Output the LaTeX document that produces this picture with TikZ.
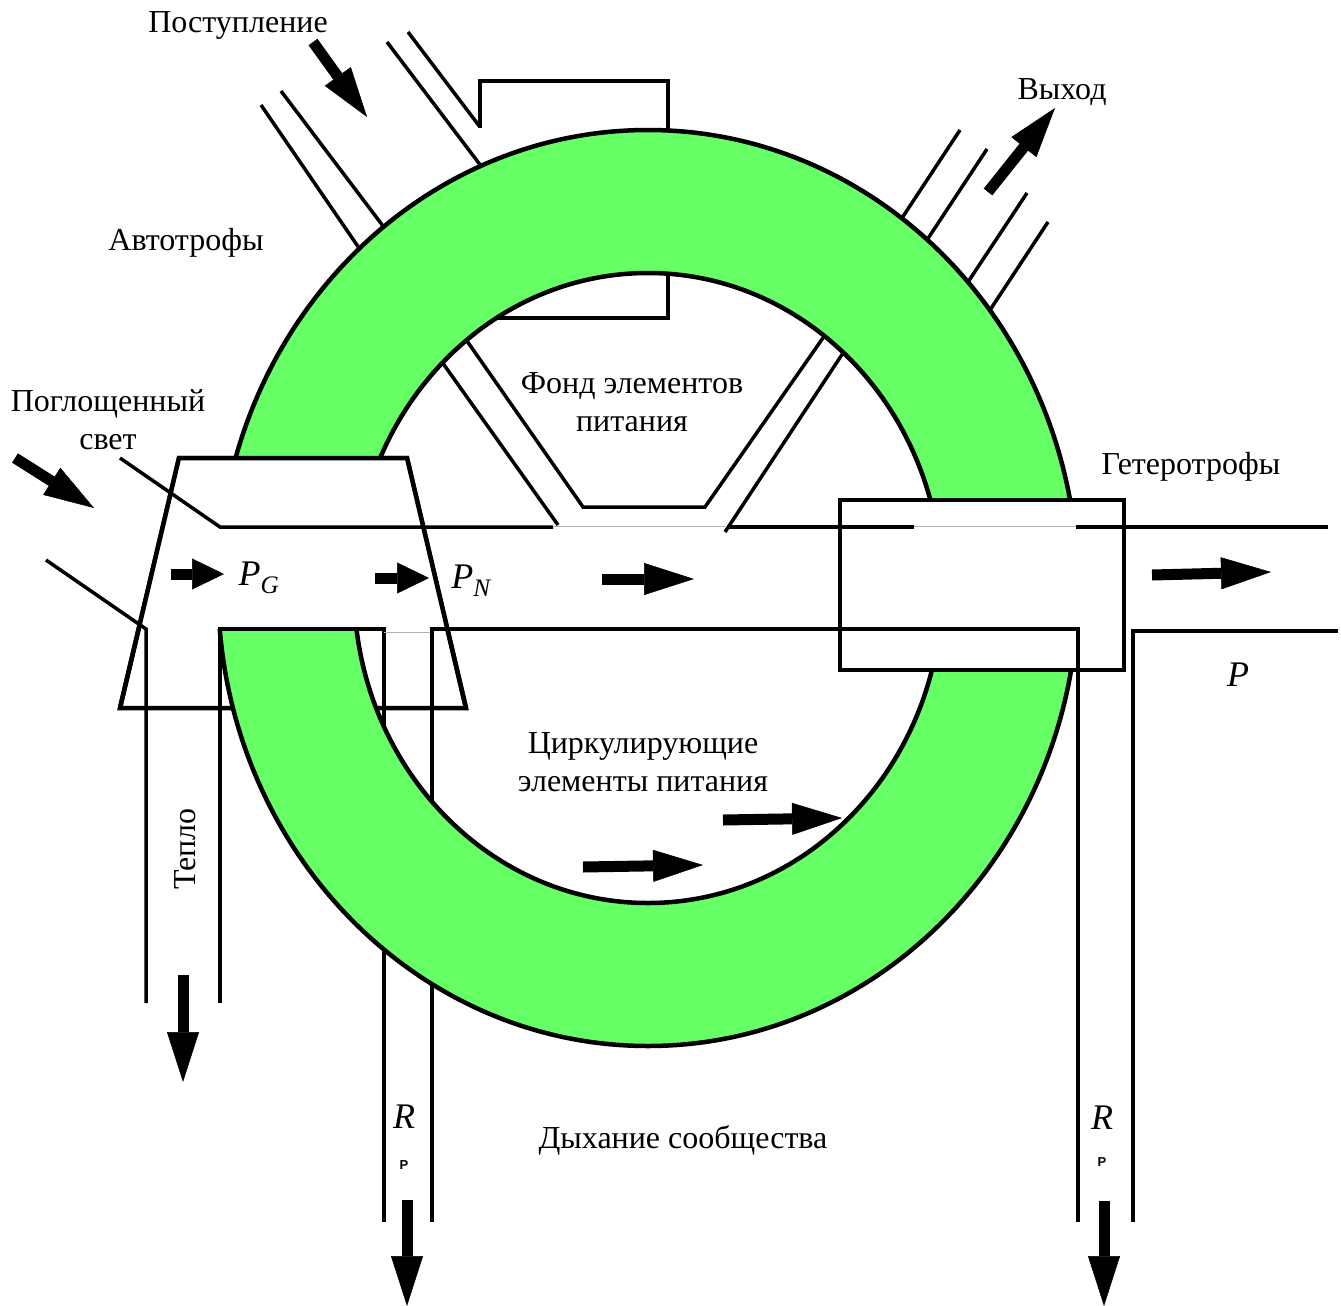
\documentclass[tikz,border=0pt]{standalone}
\usepackage{fontspec}
\setmainfont{Liberation Serif}
\setsansfont{Liberation Sans}
\usetikzlibrary{arrows.meta}
\definecolor{ringgreen}{RGB}{102,255,102}
\tikzset{
  wall/.style={line width=4.5pt},
  pipe/.style={line width=3.5pt},
  seam/.style={line width=1pt,gray!60},
  flow/.style={line width=11pt,-{Triangle[width=32pt,length=50pt,line width=0.5pt]}},
  shortflow/.style={line width=11pt,-{Triangle[width=31pt,length=32pt,line width=0.5pt]}},
  lbl/.style={font=\fontsize{32}{38}\selectfont,inner sep=0pt,align=center},
  sym/.style={font=\fontsize{36}{40}\selectfont\itshape,inner sep=0pt},
  subsym/.style={font=\fontsize{13}{14}\selectfont\sffamily\bfseries,inner sep=0pt}
}
\begin{document}
\begin{tikzpicture}[x=1pt,y=-1pt]
  \useasboundingbox (0,0) rectangle (1341,1306);
  % pipes under the ring
  \draw[pipe] (408,32) -- (480,127);
  \draw[pipe] (387,42) -- (481,166);
  \draw[pipe] (281,91) -- (383,226);
  \draw[pipe] (261,105) -- (359,248);
  \foreach \a/\b/\c/\d in {902/218/960/130, 927/240/987/149, 968/282/1027/193, 990/310/1048/222}
    \draw[pipe] (\a,\b) -- (\c,\d);
  \draw[pipe] (384,629) -- (384,1222) (432,629) -- (432,1222);
  \draw[wall] (120,708) -- (179,458) -- (407,458) -- (466,708) -- cycle;
  % ring
  \fill[ringgreen,even odd rule] (648,588) ellipse [x radius=430,y radius=458]
    (648,588) ellipse [x radius=294,y radius=315];
  \draw[wall] (648,588) ellipse [x radius=430,y radius=458]
    (648,588) ellipse [x radius=294,y radius=315];
  % autotrophs and heterotrophs
  \fill[white] (179,458) -- (407,458) -- (447.4,629) -- (138.6,629) -- cycle;
  \draw[wall] (120,708) -- (179,458) -- (407,458) -- (466,708);
  \filldraw[wall,fill=white] (840,500) rectangle (1124,670);
  % pool of nutrients
  \draw[wall] (480,128) -- (480,81) -- (668,81) -- (668,131);
  \draw[wall] (668,273) -- (668,318) -- (497,318);
  \draw[pipe] (442,362) -- (558,525);
  \draw[pipe] (467,341) -- (583,507) -- (705,507) -- (825,335);
  \draw[pipe] (843,353) -- (725,532);
  % channel
  \draw[pipe] (120,458) -- (220,527) -- (553,527);
  \draw[pipe] (727,527) -- (914,527) (1076,527) -- (1328,527);
  \draw[seam] (553,526) -- (727,526) (914,526) -- (1076,526);
  \draw[pipe] (46,560) -- (146,629) -- (146,1003);
  \draw[pipe] (220,1003) -- (220,629) -- (384,629) -- (384,700);
  \draw[seam] (384,632) -- (432,632);
  \draw[pipe] (432,700) -- (432,629) -- (1078,629) -- (1078,1222);
  \draw[pipe] (1338,631) -- (1133,631) -- (1133,1222);
  % flows
  \draw[flow] (313,42) -- (367,117);
  \draw[flow] (15,458) -- (94,508);
  \draw[flow] (988,192) -- (1055,108);
  \draw[shortflow] (171,574) -- (224,574);
  \draw[shortflow] (375,578) -- (429,578);
  \draw[flow] (602,579) -- (694,579);
  \draw[flow] (1152,575) -- (1271,572);
  \draw[flow] (583,867) -- (703,865);
  \draw[flow] (723,820) -- (842,818);
  \draw[flow] (183,975) -- (183,1082);
  \draw[flow] (407,1200) -- (407,1306);
  \draw[flow] (1104,1201) -- (1104,1306);
  % labels
  \node[lbl] (inflow) at (238,25) {Поступление};
  \node[lbl] (autotr) at (186,243) {Автотрофы};
  \node[lbl] (light) at (108,420) {Поглощенный\\свет};
  \node[lbl] (pool) at (632,402) {Фонд элементов\\питания};
  \node[lbl] (outflow) at (1062,92) {Выход};
  \node[lbl] (heterotr) at (1191,467) {Гетеротрофы};
  \node[lbl] (circ) at (643,762) {Циркулирующие\\элементы питания};
  \node[lbl] (resp) at (683,1140) {Дыхание сообщества};
  \node[lbl,rotate=90] (heat) at (185,849) {Тепло};
  \node[sym] (pg) at (259,578) {P\textsubscript{G}};
  \node[sym] (pn) at (471,581) {P\textsubscript{N}};
  \node[sym] (pnet) at (1238,675) {P};
  \node[sym] (rauto) at (404,1117) {R};
  \node[subsym] (rautosub) at (404,1165) {P};
  \node[sym] (rhet) at (1102,1118) {R};
  \node[subsym] (rhetsub) at (1102,1162) {P};
\end{tikzpicture}
\end{document}
